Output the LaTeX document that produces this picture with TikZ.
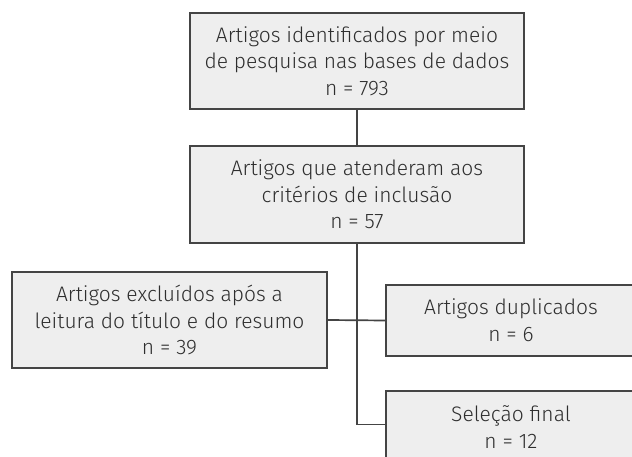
\documentclass[tikz,border=0pt]{standalone}
\usepackage{fontspec}
\setmainfont{Fira Sans Light}
\definecolor{boxfill}{HTML}{EEEEEE}
\definecolor{boxline}{HTML}{444444}
\definecolor{txt}{HTML}{2E2E2E}
\begin{document}
\begin{tikzpicture}[x=1pt,y=-1pt,
  box/.style={draw=boxline, fill=boxfill, line width=1.2pt, align=center, inner sep=0pt,
    text=txt, font=\fontsize{21}{26.7}\selectfont, anchor=center},
  link/.style={draw=boxline, line width=1.7pt}]
\useasboundingbox (0,0) rectangle (632,457);
\node[box, minimum width=334, minimum height=96] (b1) at (357,61) {Artigos identificados por meio\\de pesquisa nas bases de dados\\n = 793};
\node[box, minimum width=334, minimum height=97] (b2) at (357,194.5) {Artigos que atenderam aos\\critérios de inclusão\\n = 57};
\node[box, minimum width=315, minimum height=96] (b3) at (169.5,320) {Artigos excluídos após a\\leitura do título e do resumo\\n = 39};
\node[box, minimum width=250, minimum height=71] (b4) at (511,320.5) {Artigos duplicados\\n = 6};
\node[box, minimum width=250, minimum height=72] (b5) at (511,427) {Seleção final\\n = 12};
\coordinate (j1) at (357,320.5);
\coordinate (j2) at (357,424.5);
\draw[link] (b1.south) -- (b2.north);
\draw[link] (b2.south) -- (j2) -- (j2 -| b5.west);
\draw[link] (b3.east) -- (j1 -| b4.west);
\end{tikzpicture}
\end{document}
